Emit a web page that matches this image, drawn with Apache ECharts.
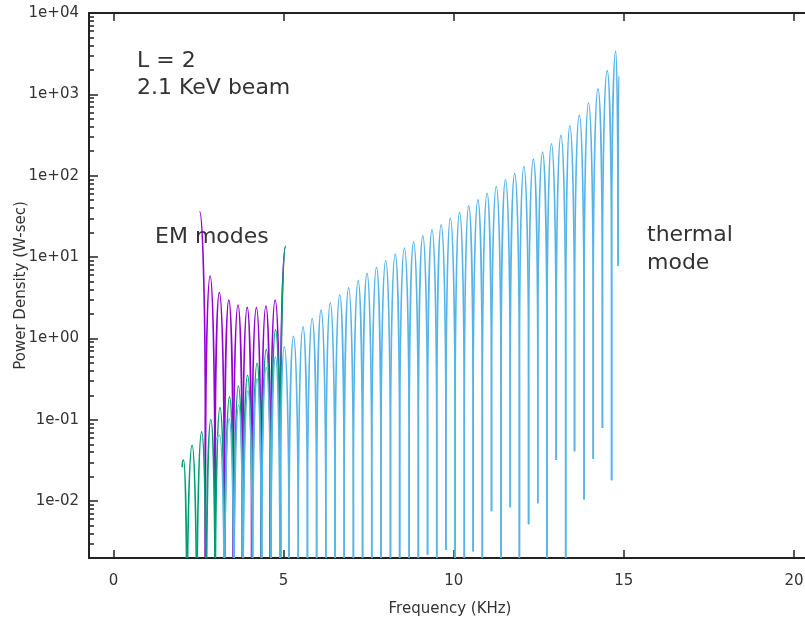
<!DOCTYPE html>
<html>
<head>
<meta charset="utf-8">
<title>Power density spectrum</title>
<script src="https://cdn.jsdelivr.net/npm/echarts@6/dist/echarts.min.js"></script>
<style>
  html, body { margin: 0; padding: 0; background: #fff; }
  #chart { width: 805px; height: 618px; }
</style>
</head>
<body>
<div id="chart"></div>
<script>
// Frequency in KHz, power density in W-sec.
// Each trace is a run of lobes: dip -> peak -> next dip. Dips that fall
// below the plotted range are recorded as 1e-4.

// EM modes (violet)
const violetPeakX = [2.53, 2.84, 3.11, 3.39, 3.66, 3.93, 4.20, 4.48, 4.75, 5.06];
const violetPeakY = [36.3, 5.85, 3.66, 2.96, 2.57, 2.41, 2.39, 2.50, 2.96, 13.5];
const violetDipX  = [null, 2.70, 2.98, 3.26, 3.52, 3.79, 4.06, 4.34, 4.61, 4.90];
const violetDipY  = [null, 1e-4, 1e-4, 1e-4, 1e-4, 1e-4, 1e-4, 1e-4, 1e-4, 1e-4];

// EM modes (green)
const greenPeakX = [2.06, 2.31, 2.59, 2.86, 3.13, 3.41, 3.67, 3.94, 4.22, 4.49, 4.76, 5.06];
const greenPeakY = [0.032, 0.0485, 0.071, 0.101, 0.141, 0.191, 0.259, 0.353, 0.496, 0.73, 1.28, 13.7];
const greenDipX  = [2.02, 2.16, 2.45, 2.73, 2.99, 3.27, 3.54, 3.81, 4.08, 4.35, 4.63, 4.91];
const greenDipY  = [0.026, 1e-4, 1e-4, 1e-4, 1e-4, 1e-4, 1e-4, 1e-4, 1e-4, 1e-4, 1e-4, 1e-4];

// thermal mode (sky blue)
const bluePeakX = [3.12, 3.40, 3.68, 3.95, 4.22, 4.49, 4.76, 5.02, 5.29, 5.57,
                   5.84, 6.10, 6.37, 6.65, 6.91, 7.19, 7.45, 7.73, 8.00, 8.28,
                   8.55, 8.82, 9.09, 9.36, 9.63, 9.90, 10.17, 10.44, 10.71, 10.98,
                   11.25, 11.52, 11.79, 12.06, 12.34, 12.61, 12.87, 13.15, 13.41, 13.69,
                   13.96, 14.24, 14.51, 14.76, 14.85];
const bluePeakY = [0.064, 0.103, 0.151, 0.226, 0.32, 0.44, 0.59, 0.79, 1.06, 1.39,
                   1.76, 2.23, 2.74, 3.44, 4.2, 5.1, 6.3, 7.5, 9.0, 10.9,
                   12.9, 15.3, 18.2, 21.6, 25, 30, 35.6, 42.6, 50.5, 61,
                   73.6, 89, 106, 130, 160, 195, 247, 313, 411, 551,
                   784, 1167, 1960, 3388, 1700];
const blueDipX  = [3.04, 3.26, 3.54, 3.81, 4.09, 4.35, 4.63, 4.89, 5.16, 5.43,
                   5.70, 5.97, 6.24, 6.51, 6.78, 7.05, 7.32, 7.59, 7.86, 8.14,
                   8.41, 8.69, 8.96, 9.23, 9.50, 9.77, 10.04, 10.31, 10.57, 10.84,
                   11.11, 11.39, 11.66, 11.93, 12.20, 12.47, 12.74, 13.01, 13.29, 13.55,
                   13.83, 14.10, 14.37, 14.64, 14.83];
const blueDipY  = [0.056, 1e-4, 1e-4, 1e-4, 1e-4, 1e-4, 1e-4, 1e-4, 1e-4, 1e-4,
                   1e-4, 1e-4, 1e-4, 1e-4, 1e-4, 1e-4, 1e-4, 1e-4, 1e-4, 1e-4,
                   1e-4, 1e-4, 1e-4, 0.0022, 1e-4, 0.0025, 1e-4, 1e-4, 0.0024, 1e-4,
                   0.0075, 1e-4, 0.0084, 1e-4, 0.0052, 0.0094, 1e-4, 0.032, 1e-4, 0.041,
                   0.0105, 0.033, 0.079, 0.018, 7.8];

// Axis ticks
const xTickValues = [0, 5, 10, 15, 20];
const xTickLabels = ['0', '5', '10', '15', '20'];
const yTickValues = [1e-2, 1e-1, 1e0, 1e1, 1e2, 1e3, 1e4];
const yTickLabels = ['1e-02', '1e-01', '1e+00', '1e+01', '1e+02', '1e+03', '1e+04'];

const X_MIN = -0.72, X_MAX = 20.5, Y_MIN = 0.002, Y_MAX = 1e4;
const FONT = '"DejaVu Sans", "Liberation Sans", sans-serif';
const AXIS_COLOR = '#222';
const TEXT_COLOR = '#333';

// Minor log ticks 2..9 within each decade
const yMinorTicks = [];
for (let e = -3; e <= 3; e++) {
  for (let m = 2; m <= 9; m++) {
    const v = m * Math.pow(10, e);
    if (v >= Y_MIN && v <= Y_MAX) yMinorTicks.push(v);
  }
}

// Build lobe records [xLeftDip, yLeftDip, xPeak, yPeak, xRightDip, yRightDip]
function buildLobes(peakX, peakY, dipX, dipY) {
  const out = [];
  for (let i = 0; i < peakX.length; i++) {
    const px = peakX[i], py = peakY[i];
    const lx = dipX[i] == null ? px : dipX[i];
    const ly = dipY[i] == null ? py : dipY[i];
    const hasRight = i + 1 < dipX.length;
    const rx = hasRight ? dipX[i + 1] : px;
    const ry = hasRight ? dipY[i + 1] : py;
    out.push([lx, ly, px, py, rx, ry]);
  }
  return out;
}

const K = 0.5523;      // quarter-ellipse bezier constant
const CROWN = 220;     // depth in px of the rounded lobe crown

function lobeRenderer(color) {
  return function (params, api) {
    const L = api.coord([api.value(0), api.value(1)]);
    const P = api.coord([api.value(2), api.value(3)]);
    const R = api.coord([api.value(4), api.value(5)]);
    let d = 'M' + L[0] + ',' + L[1];
    const hl = P[0] - L[0];
    const dl = Math.min(CROWN, L[1] - P[1]);
    if (hl > 0.05 && dl > 0) {
      d += ' L' + L[0] + ',' + (P[1] + dl) +
           ' C' + L[0] + ',' + (P[1] + dl * (1 - K)) + ' ' +
           (P[0] - hl * K) + ',' + P[1] + ' ' + P[0] + ',' + P[1];
    } else {
      d += ' L' + P[0] + ',' + P[1];
    }
    const hr = R[0] - P[0];
    const dr = Math.min(CROWN, R[1] - P[1]);
    if (hr > 0.05 && dr > 0) {
      d += ' C' + (P[0] + hr * K) + ',' + P[1] + ' ' +
           R[0] + ',' + (P[1] + dr * (1 - K)) + ' ' + R[0] + ',' + (P[1] + dr) +
           ' L' + R[0] + ',' + R[1];
    }
    return {
      type: 'path',
      shape: { pathData: d },
      style: { fill: 'none', stroke: color, lineWidth: 1.6 }
    };
  };
}

function lobeSeries(name, color, data) {
  return {
    name: name,
    type: 'custom',
    coordinateSystem: 'cartesian2d',
    clip: true,
    silent: true,
    encode: { x: [0, 2, 4], y: [1, 3, 5] },
    renderItem: lobeRenderer(color),
    data: data
  };
}

function yLabel(v) {
  for (let i = 0; i < yTickValues.length; i++) {
    if (Math.abs(Math.log10(v) - Math.log10(yTickValues[i])) < 1e-6) return yTickLabels[i];
  }
  return '';
}
function xLabel(v) {
  const i = xTickValues.indexOf(Math.round(v));
  return i >= 0 ? xTickLabels[i] : '';
}

const chart = echarts.init(document.getElementById('chart'), null, { renderer: 'canvas' });

const tickLine = { color: AXIS_COLOR, width: 1.5 };

chart.setOption({
  animation: false,
  backgroundColor: '#fff',
  grid: { left: 89, top: 13, right: -6, bottom: 60, containLabel: false, outerBoundsMode: 'none' },
  xAxis: [
    {
      type: 'value', min: X_MIN, max: X_MAX, position: 'bottom',
      name: 'Frequency (KHz)', nameLocation: 'middle', nameGap: 44, nameMoveOverlap: false,
      nameTextStyle: { fontFamily: FONT, fontSize: 15, color: TEXT_COLOR },
      axisLine: { show: true, onZero: false, lineStyle: { color: AXIS_COLOR, width: 2 } },
      axisTick: { show: true, inside: true, length: 8, customValues: xTickValues, lineStyle: tickLine },
      axisLabel: { show: true, customValues: xTickValues, margin: 16, fontFamily: FONT, fontSize: 15,
                   color: TEXT_COLOR, formatter: xLabel },
      splitLine: { show: false }
    },
    {
      type: 'value', min: X_MIN, max: X_MAX, position: 'top',
      axisLine: { show: true, onZero: false, lineStyle: { color: AXIS_COLOR, width: 2 } },
      axisTick: { show: true, inside: true, length: 8, customValues: xTickValues, lineStyle: tickLine },
      axisLabel: { show: false },
      splitLine: { show: false }
    }
  ],
  yAxis: [
    {
      type: 'log', logBase: 10, min: Y_MIN, max: Y_MAX, position: 'left',
      name: 'Power Density (W-sec)', nameLocation: 'middle', nameGap: 60, nameRotate: 90,
      nameMoveOverlap: false,
      nameTextStyle: { fontFamily: FONT, fontSize: 15, color: TEXT_COLOR },
      axisLine: { show: true, onZero: false, lineStyle: { color: AXIS_COLOR, width: 2 } },
      axisTick: { show: true, inside: true, length: 9, customValues: yTickValues, lineStyle: tickLine },
      axisLabel: { show: true, customValues: yTickValues, margin: 10, fontFamily: FONT, fontSize: 15,
                   color: TEXT_COLOR, formatter: yLabel },
      splitLine: { show: false }
    },
    {
      type: 'log', logBase: 10, min: Y_MIN, max: Y_MAX, position: 'left',
      axisLine: { show: false, onZero: false },
      axisTick: { show: true, inside: true, length: 5, customValues: yMinorTicks, lineStyle: tickLine },
      axisLabel: { show: false },
      splitLine: { show: false }
    }
  ],
  graphic: [
    { type: 'text', x: 137, y: 61, silent: true,
      style: { text: 'L = 2', font: '22px ' + FONT, fill: TEXT_COLOR, verticalAlign: 'middle' } },
    { type: 'text', x: 137, y: 88, silent: true,
      style: { text: '2.1 KeV beam', font: '22px ' + FONT, fill: TEXT_COLOR, verticalAlign: 'middle' } },
    { type: 'text', x: 155, y: 237, silent: true,
      style: { text: 'EM modes', font: '22px ' + FONT, fill: TEXT_COLOR, verticalAlign: 'middle' } },
    { type: 'text', x: 647, y: 235, silent: true,
      style: { text: 'thermal', font: '22px ' + FONT, fill: TEXT_COLOR, verticalAlign: 'middle' } },
    { type: 'text', x: 647, y: 263, silent: true,
      style: { text: 'mode', font: '22px ' + FONT, fill: TEXT_COLOR, verticalAlign: 'middle' } }
  ],
  series: [
    lobeSeries('EM violet', '#9400d3', buildLobes(violetPeakX, violetPeakY, violetDipX, violetDipY)),
    lobeSeries('EM green', '#009e73', buildLobes(greenPeakX, greenPeakY, greenDipX, greenDipY)),
    lobeSeries('thermal', '#56b4e9', buildLobes(bluePeakX, bluePeakY, blueDipX, blueDipY))
  ]
});
</script>
</body>
</html>
